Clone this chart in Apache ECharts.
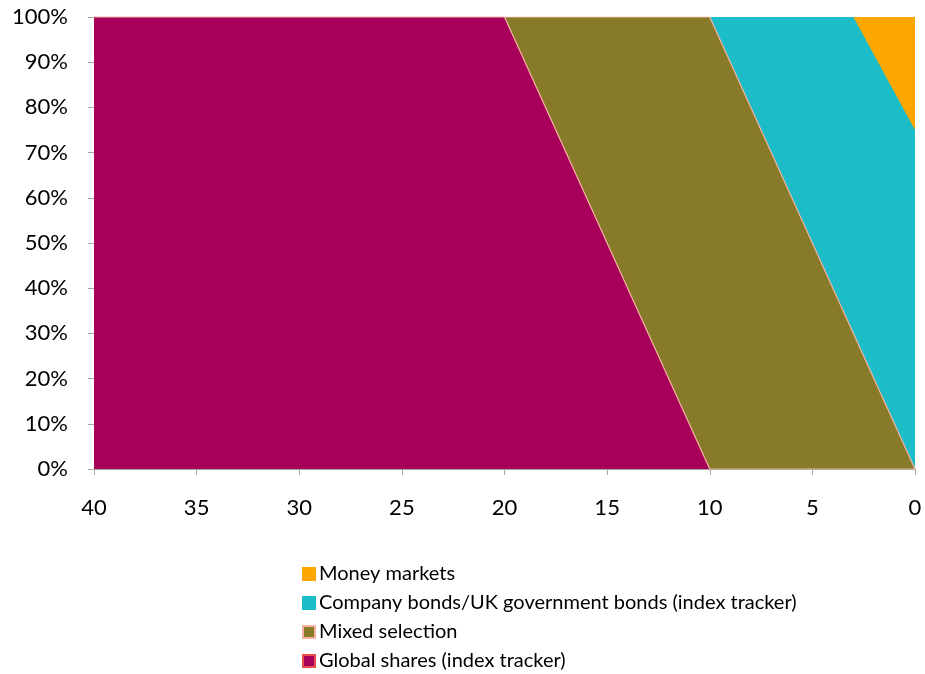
<!DOCTYPE html>
<html>
<head>
<meta charset="utf-8">
<script src="https://cdn.jsdelivr.net/npm/echarts@6/dist/echarts.min.js"></script>
<style>
  html, body { margin: 0; padding: 0; background: #ffffff; }
  #chart { width: 925px; height: 674px; }
</style>
</head>
<body>
<div id="chart"></div>
<script>
// Years to retirement (breakpoints of the glide path)
const years = [40, 20, 10, 3, 0];

// Allocation (% of pot) at each breakpoint
const globalShares = [100, 100, 0, 0, 0];
const mixedSelection = [0, 0, 100, 30, 0];
const bonds = [0, 0, 0, 70, 75];
const moneyMarkets = [0, 0, 0, 0, 25];

const seriesNames = [
  'Global shares (index tracker)',
  'Mixed selection',
  'Company bonds/UK government bonds (index tracker)',
  'Money markets'
];
const seriesValues = [globalShares, mixedSelection, bonds, moneyMarkets];
const fills = ['#a8005a', '#877a28', '#1cbcc8', '#fda700'];
const edges = ['#f6b4a0', '#f6b4a0', '#1cbcc8', '#fda700'];
const edgeWidths = [1.2, 1.2, 0, 0];
const legendBorders = ['#e8524c', '#f6b4a0', '#1cbcc8', '#fda700'];

const FONT = 'Lato, "Open Sans", sans-serif';

// Running totals: each band is filled from the axis up to its cumulative top,
// painted top band first so the lower bands sit over it.
const cumulative = seriesValues.map((_, i) =>
  years.map((_, k) => seriesValues.slice(0, i + 1).reduce((s, arr) => s + arr[k], 0))
);

const chart = echarts.init(document.getElementById('chart'), null, { renderer: 'canvas' });

const series = seriesNames.map((name, i) => ({
  name: name,
  type: 'line',
  symbol: 'none',
  z: 10 - i,
  data: years.map((y, k) => [y, cumulative[i][k]]),
  lineStyle: { color: edges[i], width: edgeWidths[i] },
  itemStyle: { color: fills[i], borderColor: legendBorders[i], borderWidth: 1.5 },
  areaStyle: { color: fills[i], opacity: 1 },
  emphasis: { disabled: true },
  animation: false
})).reverse();

chart.setOption({
  backgroundColor: '#ffffff',
  animation: false,
  grid: { left: 94, right: 10, top: 17, bottom: 205, containLabel: false },
  xAxis: {
    type: 'value',
    inverse: true,
    min: 0,
    max: 40,
    interval: 5,
    axisLine: { show: true, onZero: false, lineStyle: { color: '#a6a6a6', width: 1 } },
    axisTick: { show: true, length: 6, lineStyle: { color: '#a6a6a6' } },
    axisLabel: { color: '#000000', fontSize: 22, fontFamily: FONT, margin: 28 },
    splitLine: { show: false }
  },
  yAxis: {
    type: 'value',
    position: 'left',
    min: 0,
    max: 100,
    interval: 10,
    axisLine: { show: true, onZero: false, lineStyle: { color: '#a6a6a6', width: 1 } },
    axisTick: { show: true, length: 6, lineStyle: { color: '#a6a6a6' } },
    axisLabel: { color: '#000000', fontSize: 22, fontFamily: FONT, margin: 26, formatter: '{value}%' },
    splitLine: { show: false }
  },
  legend: {
    orient: 'vertical',
    left: 302,
    top: 564,
    height: 120,
    padding: 0,
    itemWidth: 12,
    itemHeight: 12,
    itemGap: 9,
    icon: 'rect',
    selectedMode: false,
    data: seriesNames.slice().reverse(),
    textStyle: { color: '#000000', fontSize: 20, lineHeight: 18, fontFamily: FONT, padding: [0, 0, 0, -1] }
  },
  series: series
});
</script>
</body>
</html>
